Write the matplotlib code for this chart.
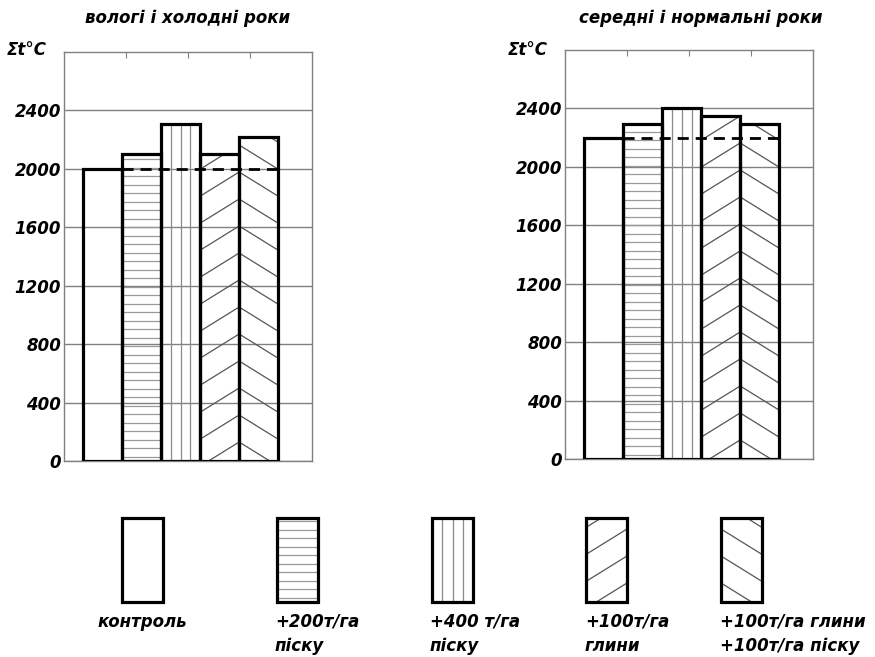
import numpy as np
import matplotlib
matplotlib.use("Agg")
import matplotlib.pyplot as plt
from matplotlib.patches import Rectangle
from matplotlib.collections import LineCollection
from matplotlib.transforms import IdentityTransform

# data
TITLES = ["вологі і холодні роки", "середні і нормальні роки"]
YLABEL = "Σt°C"
WET_COLD = [2000, 2100, 2310, 2100, 2220]
NORMAL = [2200, 2290, 2400, 2350, 2290]
YTICKS = [0, 400, 800, 1200, 1600, 2000, 2400]
LEGEND_LABELS = ["контроль", "+200т/га\nпіску", "+400 т/га\nпіску",
                 "+100т/га\nглини", "+100т/га глини\n+100т/га піску"]
HATCHES = [None, "h", "v", "/", "\\"]

# hatch look (pixels)
H_STEP = 8.5
D_STEP = 27
D_PHASE = 19
D_SLOPE = 0.62

plt.rcParams["font.family"] = ["DejaVu Sans"]
plt.rcParams["font.style"] = "italic"
plt.rcParams["font.weight"] = "bold"

GRID = "#808080"


def add_hatch(container, patch, kind):
    if kind is None:
        return
    bb = patch.get_window_extent()
    x0, y0, x1, y1 = bb.x0, bb.y0, bb.x1, bb.y1
    w = x1 - x0
    segs = []
    if kind == "h":
        color, lw = "#9a9a9a", 0.9
        for y in np.arange(y0 + H_STEP / 2, y1, H_STEP):
            segs.append([(x0, y), (x1, y)])
    elif kind == "v":
        color, lw = "#8a8a8a", 0.9
        for f in (0.25, 0.5, 0.75):
            xv = x0 + f * w
            segs.append([(xv, y0), (xv, y1)])
    else:
        color, lw = "#555555", 0.9
        n = int((y1 - y0) / D_STEP) + 4
        for k in range(-2, n):
            ye = y0 + D_PHASE + k * D_STEP
            if kind == "/":
                segs.append([(x0, ye - D_SLOPE * w), (x1, ye)])
            else:
                segs.append([(x0, ye), (x1, ye - D_SLOPE * w)])
    lc = LineCollection(segs, colors=color, linewidths=lw,
                        transform=IdentityTransform(), zorder=2)
    if hasattr(container, "add_collection"):
        container.add_collection(lc, autolim=False)
    else:
        container.add_artist(lc)
    # clip to the bar outline (set after adding so the axes does not override it)
    lc.set_clip_box(None)
    lc.set_clip_path(patch.get_path(), patch.get_transform())


fig = plt.figure(figsize=(8.75, 6.57), dpi=100)

panels = [
    (WET_COLD, [0.0731, 0.2983, 0.2834, 0.6225], 188 / 875, 7 / 875),
    (NORMAL, [0.6457, 0.3014, 0.2834, 0.6225], 701 / 875, 508 / 875),
]

x = np.arange(len(WET_COLD))
for (vals, rect, tx, lx), title in zip(panels, TITLES):
    ax = fig.add_axes(rect)
    ax.set_xlim(-1.0, 5.37)
    ax.set_ylim(0, 2800)
    for s in ax.spines.values():
        s.set_color(GRID)
        s.set_linewidth(1.0)
    ax.set_yticks(YTICKS)
    ax.set_yticklabels([str(t) for t in YTICKS], fontsize=12,
                       fontstyle="italic", fontweight="bold")
    ax.tick_params(axis="y", length=0, pad=2)
    ax.set_xticks(np.linspace(-1.0, 5.37, 5)[1:-1])
    ax.tick_params(axis="x", bottom=False, top=True, direction="in",
                   length=4, color=GRID, labelbottom=False)
    ax.yaxis.grid(True, color=GRID, linewidth=1.0)
    ax.set_axisbelow(True)

    bars = ax.bar(x, vals, width=1.0, facecolor="none", edgecolor="black",
                  linewidth=2.3, zorder=3)
    for b, h in zip(bars, HATCHES):
        add_hatch(ax, b, h)
    # control level carried across the other bars
    ax.plot([x[0] + 0.5, x[-1] + 0.5], [vals[0], vals[0]], color="black",
            linewidth=2.0, linestyle=(0, (4, 2.5)), zorder=4)

    fig.text(tx, 1 - 18 / 657, title, ha="center", va="center", fontsize=12,
             fontstyle="italic", fontweight="bold")
    fig.text(lx, 1 - 50 / 657, YLABEL, ha="left", va="center", fontsize=12,
             fontstyle="italic", fontweight="bold")

# legend along the bottom
LEG_X = [122 / 875, 277 / 875, 432 / 875, 586 / 875, 721 / 875]
TXT_X = [97 / 875, 275 / 875, 430 / 875, 585 / 875, 720 / 875]
for lx, tx, lab, h in zip(LEG_X, TXT_X, LEGEND_LABELS, HATCHES):
    r = Rectangle((lx, 1 - 602 / 657), 41 / 875, 84 / 657, transform=fig.transFigure,
                  facecolor="none", edgecolor="black", linewidth=2.3, zorder=3)
    fig.add_artist(r)
    add_hatch(fig, r, h)
    fig.text(tx, 1 - 613 / 657, lab, ha="left", va="top", fontsize=12,
             fontstyle="italic", fontweight="bold", linespacing=1.45)

fig.savefig("out.png", dpi=100)
